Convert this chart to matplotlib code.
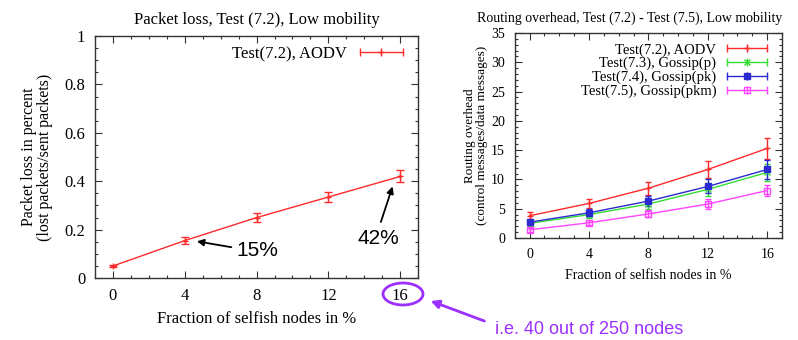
import numpy as np
import matplotlib
matplotlib.use("Agg")
import matplotlib.pyplot as plt
from matplotlib.lines import Line2D
from matplotlib.patches import Ellipse, FancyArrowPatch
from matplotlib.legend_handler import HandlerLine2D, HandlerTuple

plt.rcParams['font.family'] = ['Liberation Serif', 'DejaVu Serif']

# data
frac = [0, 4, 8, 12, 16]
loss_aodv = [0.05, 0.155, 0.25, 0.335, 0.42]
loss_err = [0.005, 0.014, 0.018, 0.022, 0.025]

ovh_names = ["Test(7.2), AODV", "Test(7.3), Gossip(p)", "Test(7.4), Gossip(pk)", "Test(7.5), Gossip(pkm)"]
ovh_aodv = [3.8, 5.9, 8.5, 11.7, 15.3]
ovh_aodv_err = [0.6, 0.8, 1.1, 1.4, 1.8]
ovh_p = [2.5, 4.0, 5.8, 8.3, 11.2]
ovh_p_err = [0.4, 0.6, 0.8, 1.1, 1.4]
ovh_pk = [2.7, 4.3, 6.3, 8.8, 11.7]
ovh_pk_err = [0.4, 0.6, 0.9, 1.2, 1.6]
ovh_pkm = [1.4, 2.6, 4.1, 5.8, 8.1]
ovh_pkm_err = [0.3, 0.4, 0.6, 0.8, 1.0]

colors = ['#ff2a2a', '#33dd33', '#2a2ad0', '#ff44ff']
markers = [('+', 'full'), ('x', 'full'), ('s', 'full'), ('s', 'none')]

fig = plt.figure(figsize=(7.98, 3.4), dpi=100)
ax1 = fig.add_axes([0.119, 0.182, 0.405, 0.712])
ax2 = fig.add_axes([0.645, 0.30, 0.335, 0.603])


def gnuplot_axes(ax, size):
    ax.tick_params(which='both', direction='in', top=True, right=True, width=0.8, color='#333333')
    ax.tick_params(which='major', length=5, labelsize=size, pad=7)
    ax.tick_params(which='minor', length=2.5)
    for s in ax.spines.values():
        s.set_color('#333333')
        s.set_linewidth(1.0)


def legend_handle(color, marker, fill, ms):
    caps = Line2D([], [], color=color, lw=1, marker='|', ms=6, mew=1)
    mid = Line2D([], [], color=color, lw=0, marker=marker, ms=ms, fillstyle=fill, mew=1)
    return (caps, mid), {caps: HandlerLine2D(numpoints=3), mid: HandlerLine2D(numpoints=1)}


# left: packet loss
ax1.errorbar(frac, loss_aodv, yerr=loss_err, color=colors[0], lw=1, marker='+', ms=5,
             capsize=3, elinewidth=1)
ax1.set_xlim(-1, 17)
ax1.set_ylim(0, 1)
ax1.set_xticks(frac)
ax1.set_yticks([0, 0.2, 0.4, 0.6, 0.8, 1.0])
ax1.set_yticklabels(['0', '0.2', '0.4', '0.6', '0.8', '1'])
ax1.set_xticks(np.arange(-1, 18, 1), minor=True)
ax1.set_yticks(np.arange(0, 1.01, 0.05), minor=True)
gnuplot_axes(ax1, 12)
ax1.set_title("Packet loss, Test (7.2), Low mobility", fontsize=12, pad=9)
ax1.set_xlabel("Fraction of selfish nodes in %", fontsize=12, labelpad=5)
ax1.set_ylabel("Packet loss in percent\n(lost packets/sent packets)", fontsize=11.5, labelpad=8,
               linespacing=1.0)
h, hm = legend_handle(colors[0], '+', 'full', 5)
ax1.legend([h], ["Test(7.2), AODV"], handler_map={tuple: HandlerTuple(ndivide=1), **hm},
           loc='upper right', frameon=False, markerfirst=False, fontsize=12,
           handlelength=3.2, borderaxespad=0.2, handletextpad=0.5)

# annotations in Arial-like font
ann = dict(family=['Liberation Sans', 'DejaVu Sans'], fontsize=15, color='black')
ax1.annotate("15%", xy=(4.6, 0.153), xytext=(6.9, 0.116), va='center', ha='left',
             arrowprops=dict(arrowstyle='-|>', color='black', lw=1.3, mutation_scale=10,
                             relpos=(0.0, 0.6), shrinkA=2, shrinkB=1), **ann)
ax1.annotate("42%", xy=(15.6, 0.384), xytext=(14.8, 0.165), va='center', ha='center',
             arrowprops=dict(arrowstyle='-|>', color='black', lw=1.3, mutation_scale=10,
                             relpos=(0.5, 1.0), shrinkA=3, shrinkB=1), **ann)

# right: routing overhead
series = [(ovh_aodv, ovh_aodv_err), (ovh_p, ovh_p_err), (ovh_pk, ovh_pk_err), (ovh_pkm, ovh_pkm_err)]
handles = []
hmap = {tuple: HandlerTuple(ndivide=1)}
for (vals, err), c, (m, f) in zip(series, colors, markers):
    ms = 4 if m == 's' else 5
    ax2.errorbar(frac, vals, yerr=err, color=c, lw=1, marker=m, ms=ms, fillstyle=f,
                 capsize=2.5, elinewidth=1, mew=1)
    h, hm = legend_handle(c, m, f, ms)
    handles.append(h)
    hmap.update(hm)
ax2.set_xlim(-1, 17)
ax2.set_ylim(0, 35)
ax2.set_xticks(frac)
ax2.set_yticks(np.arange(0, 36, 5))
ax2.set_xticks(np.arange(-1, 18, 1), minor=True)
ax2.set_yticks(np.arange(0, 36, 1), minor=True)
gnuplot_axes(ax2, 10)
ax2.set_title("Routing overhead, Test (7.2) - Test (7.5), Low mobility", fontsize=10, pad=8, x=0.43)
ax2.set_xlabel("Fraction of selfish nodes in %", fontsize=10, labelpad=6)
ax2.set_ylabel("Routing overhead\n(control messages/data messages)", fontsize=9.5, labelpad=2,
               linespacing=1.0)
ax2.legend(handles, ovh_names, handler_map=hmap, loc='upper right', frameon=False,
           markerfirst=False, fontsize=10.5, handlelength=3.4, borderaxespad=0.3,
           labelspacing=0.02, handletextpad=0.4)

# purple highlight around the 16 tick label
purple = '#9b30ff'
circ = Ellipse((403 / 798, 1 - 294 / 340), 40 / 798, 22 / 340, transform=fig.transFigure,
               fill=False, edgecolor=purple, lw=2, clip_on=False)
fig.add_artist(circ)
fig.text(495 / 798, 1 - 330 / 340, "i.e. 40 out of 250 nodes", color=purple, ha='left', va='center',
         family=['Liberation Sans', 'DejaVu Sans'], fontsize=13)
fig.add_artist(FancyArrowPatch((487 / 798, 1 - 322 / 340), (428 / 798, 1 - 300 / 340),
                               transform=fig.transFigure, arrowstyle='-|>',
                               color=purple, lw=2, mutation_scale=12))

fig.savefig("out.png", dpi=100)
